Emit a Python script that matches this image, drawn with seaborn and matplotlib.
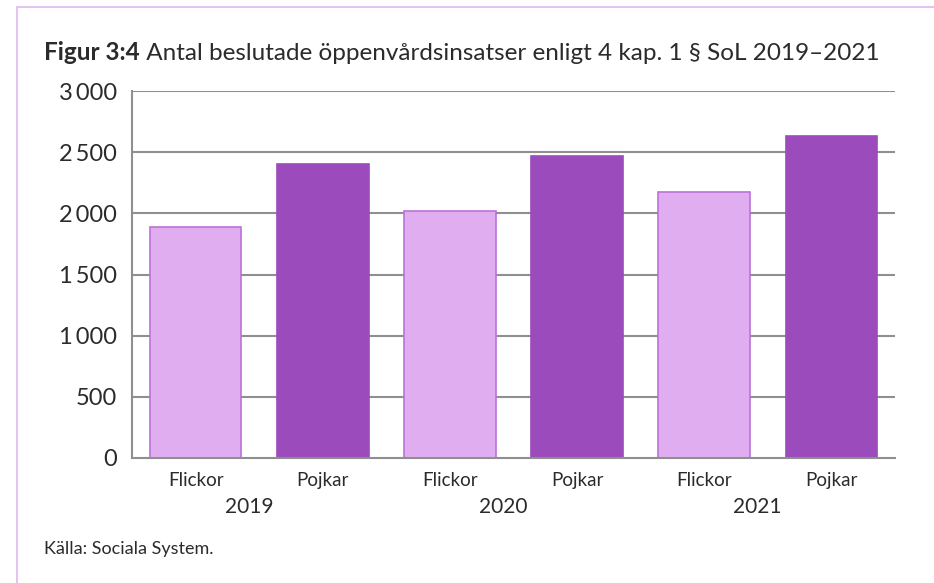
import matplotlib
matplotlib.use("Agg")
import matplotlib.pyplot as plt
import seaborn as sns
import pandas as pd
from matplotlib.lines import Line2D

years = ["2019", "2020", "2021"]
genders = ["Flickor", "Pojkar"]
values_flickor = [1890, 2015, 2175]
values_pojkar = [2405, 2465, 2635]
ytick_values = [0, 500, 1000, 1500, 2000, 2500, 3000]
ytick_labels = ["0", "500", "1\u2009000", "1\u2009500", "2\u2009000", "2\u2009500", "3\u2009000"]
title_bold = "Figur 3:4"
title_rest = " Antal beslutade öppenvårdsinsatser enligt 4 kap. 1 § SoL 2019–2021"
source = "Källa: Sociala System."

rows = []
for i, y in enumerate(years):
    rows.append({"slot": f"{y} {genders[0]}", "kon": genders[0], "value": values_flickor[i]})
    rows.append({"slot": f"{y} {genders[1]}", "kon": genders[1], "value": values_pojkar[i]})
df = pd.DataFrame(rows)

sns.set_theme(style="white")
plt.rcParams["font.family"] = ["Lato", "DejaVu Sans"]
text_color = "#2b2b2b"

fig = plt.figure(figsize=(9.34, 5.83), dpi=100)
ax = fig.add_axes([132/934, 1-458/583, (895-132)/934, (458-91)/583])

light = "#e0aef0"
dark = "#9c4bbc"
sns.barplot(data=df, x="slot", y="value", hue="kon", dodge=False,
            palette={genders[0]: light, genders[1]: dark}, width=0.72,
            ax=ax, legend=False, saturation=1)
for p in ax.patches:
    fc = matplotlib.colors.to_hex(p.get_facecolor())
    if fc.lower() == light:
        p.set_edgecolor("#bb72d8")
    else:
        p.set_edgecolor(dark)
    p.set_linewidth(1.2)

ax.set_xlim(-0.5, 5.5)
ax.set_ylim(0, 3000)
ax.set_yticks(ytick_values)
ax.set_yticklabels(ytick_labels, fontsize=17, color=text_color)
ax.tick_params(axis="y", length=0, pad=11)
for v in ytick_values[1:]:
    ax.axhline(v, color="#8f8f8f", lw=1.5, zorder=0)
ax.set_axisbelow(True)

ax.set_xticks(range(6))
ax.set_xticklabels([g for _ in years for g in genders], fontsize=13.5, color=text_color)
ax.tick_params(axis="x", length=0, pad=10)
ax.set_xticks([1.5, 3.5, 5.5], minor=True)
ax.tick_params(axis="x", which="minor", direction="in", length=7, width=1.5, color="#8f8f8f")
ax.set_xlabel("")
ax.set_ylabel("")

for s in ["top", "right"]:
    ax.spines[s].set_visible(False)
for s in ["left", "bottom"]:
    ax.spines[s].set_color("#8f8f8f")
    ax.spines[s].set_linewidth(1.5)

for i, y in enumerate(years):
    ax.text(2*i + 0.5 - 0.08, (458-507)/367, y, transform=ax.get_xaxis_transform(),
            ha="center", va="center", fontsize=15, color=text_color)

fig.text(44/934, 1-60/583, title_bold, fontsize=17.5, fontweight="bold",
         color=text_color, ha="left", va="baseline")
fig.canvas.draw()
r = fig.texts[0].get_window_extent()
fig.text(r.x1/fig.bbox.width, 1-60/583, title_rest, fontsize=17.5,
         color=text_color, ha="left", va="baseline")
fig.text(44/934, 1-549/583, source, fontsize=13, color=text_color,
         ha="left", va="center")

border = "#e3c3ef"
fig.add_artist(Line2D([17/934, 1], [1-7/583, 1-7/583], transform=fig.transFigure,
                      color=border, lw=1.5))
fig.add_artist(Line2D([17/934, 17/934], [0, 1-7/583], transform=fig.transFigure,
                      color=border, lw=1.5))

fig.savefig("out.png", dpi=100, facecolor="white")
